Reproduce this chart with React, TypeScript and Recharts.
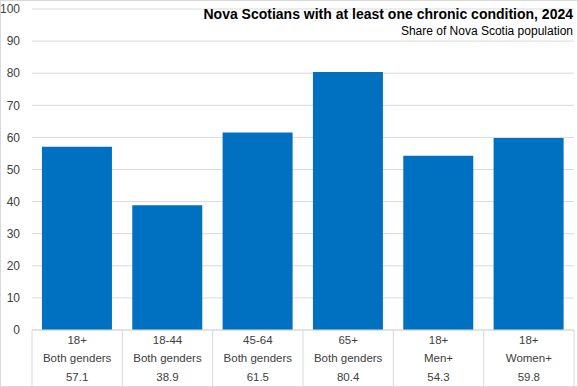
import React from "react";
import { BarChart, Bar, XAxis, YAxis, CartesianGrid } from "recharts";

const ageGroups = ["18+", "18-44", "45-64", "65+", "18+", "18+"];
const genders = ["Both genders", "Both genders", "Both genders", "Both genders", "Men+", "Women+"];
const shares = [57.1, 38.9, 61.5, 80.4, 54.3, 59.8];
const yTicks = [0, 10, 20, 30, 40, 50, 60, 70, 80, 90, 100];

const data = ageGroups.map((a, i) => ({ key: `${i}`, age: a, gender: genders[i], value: shares[i] }));

const W = 578;
const H = 387;
const LEFT = 32;
const RIGHT = 4;
const BAND = (W - LEFT - RIGHT) / data.length;
const FONT = "'Liberation Sans', Arial, sans-serif";

const CatTick = (props: any) => {
  const { x, y, payload, index } = props;
  const d = data[Number(payload.value)];
  const half = BAND / 2;
  return (
    <g>
      {index === 0 && <line x1={x - half} x2={x - half} y1={y} y2={y + 57} stroke="#d9d9d9" />}
      <line x1={x + half} x2={x + half} y1={y} y2={y + 57} stroke="#d9d9d9" />
      <text x={x} y={y + 14} textAnchor="middle" fontSize={11.5} fill="#404040" fontFamily={FONT}>{d.age}</text>
      <text x={x} y={y + 32} textAnchor="middle" fontSize={11.5} fill="#404040" fontFamily={FONT}>{d.gender}</text>
      <text x={x} y={y + 51} textAnchor="middle" fontSize={11.5} fill="#404040" fontFamily={FONT}>{d.value.toFixed(1)}</text>
    </g>
  );
};

export default function App() {
  return (
    <div style={{ position: "fixed", left: 0, top: 0, width: W, height: H, background: "#fff" }}>
      <div style={{ position: "absolute", left: 0, top: 0, width: W, height: H, boxSizing: "border-box", border: "1px solid #d9d9d9", pointerEvents: "none" }} />
      <BarChart width={W} height={H} data={data} margin={{ top: 9, right: RIGHT, bottom: 0, left: 0 }} barCategoryGap="11%">
        <CartesianGrid vertical={false} stroke="#d9d9d9" />
        <XAxis dataKey="key" tick={<CatTick />} tickLine={false} tickSize={0} tickMargin={0} axisLine={{ stroke: "#d9d9d9" }} height={57} interval={0} />
        <YAxis
          domain={[0, 100]}
          ticks={yTicks}
          width={LEFT}
          tickLine={false}
          axisLine={false}
          tickSize={0}
          tickMargin={12}
          tick={{ fontSize: 12, fill: "#404040", fontFamily: FONT }}
          interval={0}
        />
        <Bar dataKey="value" fill="#0070C0" isAnimationActive={false} />
      </BarChart>
      <div style={{ position: "absolute", right: 5, top: 6, fontFamily: FONT, fontWeight: "bold", fontSize: 14, color: "#000", whiteSpace: "nowrap" }}>
        Nova Scotians with at least one chronic condition, 2024
      </div>
      <div style={{ position: "absolute", right: 5, top: 24, fontFamily: FONT, fontSize: 12, color: "#000", whiteSpace: "nowrap" }}>
        Share of Nova Scotia population
      </div>
    </div>
  );
}
